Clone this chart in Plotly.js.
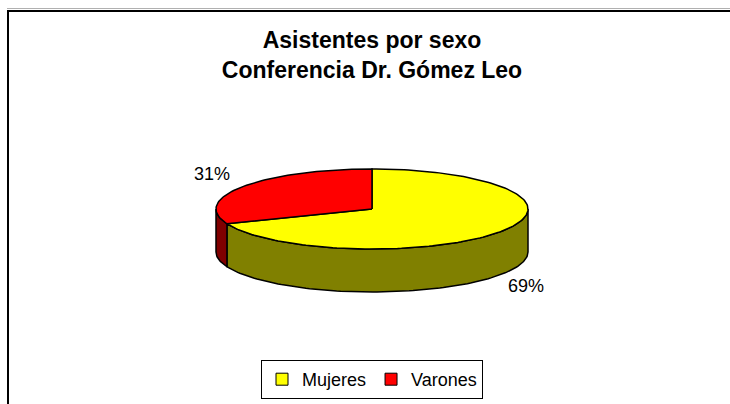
<!DOCTYPE html>
<html>
<head>
<meta charset="utf-8">
<script src="https://cdn.plot.ly/plotly-3.0.1.min.js"></script>
<style>html,body{margin:0;padding:0;background:#fff;}#chart{width:730px;height:404px;}</style>
</head>
<body>
<div id="chart"></div>
<script>
// ---- data ----
const categories = ['Mujeres', 'Varones'];
const values = [69, 31];
const topColors = ['#FFFF00', '#FF0000'];
const sideColors = ['#808000', '#800000'];
const titleLines = ['Asistentes por sexo', 'Conferencia Dr. Gómez Leo'];

// ---- geometry of the tilted pie (pixel units on the hidden axes) ----
const CX = 372, CY = 209, RX = 156, RY = 40, DEPTH = 43;
const labelPos = [[526, 286], [212, 174]];

const total = values.reduce((a, b) => a + b, 0);
function pt(deg, dy) {
  const r = deg * Math.PI / 180;
  return [CX + RX * Math.cos(r), CY - RY * Math.sin(r) + (dy || 0)];
}
function arc(a0, a1, dy) {
  const n = Math.max(2, Math.ceil(Math.abs(a1 - a0) / 1.5));
  const out = [];
  for (let i = 0; i <= n; i++) out.push(pt(a0 + (a1 - a0) * i / n, dy));
  return out;
}

const sideTraces = [], topTraces = [], legendTraces = [], annotations = [];
let start = 90;
values.forEach((v, i) => {
  const sweep = v / total * 360;
  const end = start - sweep; // clockwise
  // side walls (front half only)
  [[-180, 0], [-540, -360]].forEach(([f0, f1]) => {
    const lo = Math.max(end, f0), hi = Math.min(start, f1);
    if (hi > lo) {
      const topArc = arc(lo, hi, 0);
      const botArc = arc(hi, lo, DEPTH);
      const poly = topArc.concat(botArc);
      poly.push(poly[0]);
      sideTraces.push({
        type: 'scatter', mode: 'lines', fill: 'toself',
        x: poly.map(p => p[0]), y: poly.map(p => p[1]),
        fillcolor: sideColors[i], line: {color: '#000', width: 1.5},
        showlegend: false, hoverinfo: 'skip'
      });
    }
  });
  // top wedge
  const w = [[CX, CY]].concat(arc(start, end, 0));
  w.push([CX, CY]);
  topTraces.push({
    type: 'scatter', mode: 'lines', fill: 'toself',
    x: w.map(p => p[0]), y: w.map(p => p[1]),
    fillcolor: topColors[i], line: {color: '#000', width: 1.5},
    showlegend: false, hoverinfo: 'skip'
  });
  legendTraces.push({
    type: 'scatter', mode: 'markers', x: [null], y: [null],
    name: categories[i],
    marker: {symbol: 'square', size: 12, color: topColors[i], line: {color: '#000', width: 1}}
  });
  annotations.push({
    x: labelPos[i][0], y: labelPos[i][1], xref: 'x', yref: 'y',
    text: Math.round(v / total * 100) + '%', showarrow: false,
    font: {family: 'Liberation Sans, Arial, sans-serif', size: 18, color: '#000'}
  });
  start = end;
});

const layout = {
  width: 730, height: 404, autosize: false,
  margin: {l: 0, r: 0, t: 0, b: 0},
  paper_bgcolor: '#fff', plot_bgcolor: '#fff',
  title: {
    text: '<b>' + titleLines.join('<br>') + '</b>',
    font: {family: 'Liberation Sans, Arial, sans-serif', size: 23, color: '#000'},
    x: 372 / 730, xanchor: 'center', xref: 'paper',
    y: 1 - 48 / 404, yanchor: 'top', yref: 'container'
  },
  xaxis: {range: [0, 730], visible: false, fixedrange: true},
  yaxis: {range: [404, 0], visible: false, fixedrange: true},
  showlegend: true,
  legend: {
    orientation: 'h', x: 372 / 730, xanchor: 'center', y: 1 - 360 / 404, yanchor: 'top',
    font: {family: 'Liberation Sans, Arial, sans-serif', size: 18, color: '#000'},
    bordercolor: '#000', borderwidth: 1, bgcolor: '#fff',
    itemwidth: 30, tracegroupgap: 0
  },
  annotations: annotations,
  shapes: [
    {type: 'line', xref: 'x', yref: 'y', x0: 7, x1: 740, y0: 8.5, y1: 8.5, line: {color: '#b0b0b0', width: 1}},
    {type: 'rect', xref: 'x', yref: 'y', x0: 8, y0: 11, x1: 760, y1: 460, line: {color: '#000', width: 2}}
  ]
};

Plotly.newPlot('chart', sideTraces.concat(topTraces, legendTraces), layout, {staticPlot: true, displayModeBar: false});
</script>
</body>
</html>
